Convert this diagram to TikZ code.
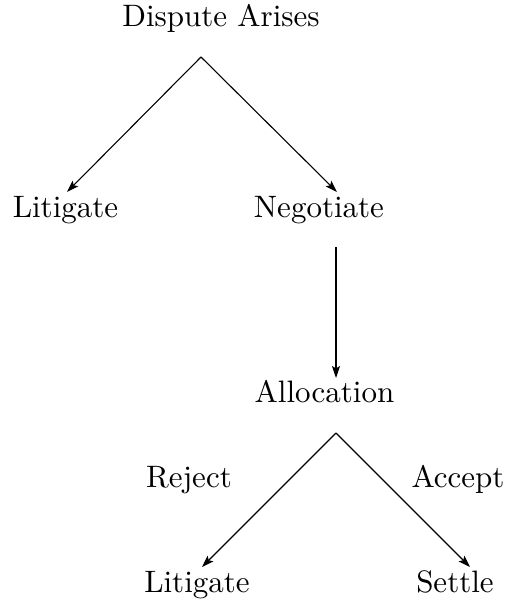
\documentclass[tikz,border=0pt]{standalone}
\usetikzlibrary{arrows.meta}
\begin{document}
\begin{tikzpicture}[x=1pt,y=-1pt,
  lbl/.style={anchor=base,inner sep=0pt,scale=3.1},
  conn/.style={line width=1.1pt,-{Stealth[length=12pt,width=8pt,inset=2.5pt]}}]
\useasboundingbox (0,0) rectangle (512,602);
\node[lbl] (dispute) at (221,27) {Dispute Arises};
\node[lbl] (lit1) at (65.5,217) {Litigate};
\node[lbl] (neg) at (319,217) {Negotiate};
\node[lbl] (alloc) at (324.5,402) {Allocation};
\node[lbl] (reject) at (189,487) {Reject};
\node[lbl] (accept) at (458,487) {Accept};
\node[lbl] (lit2) at (197,592) {Litigate};
\node[lbl] (settle) at (455,592) {Settle};
\coordinate (apex1) at (201,57);
\coordinate (t1) at (67,192);
\coordinate (t2) at (337,192);
\coordinate (vs) at (336,247);
\coordinate (t3) at (336,378);
\coordinate (apex2) at (336,433);
\coordinate (t4) at (202,567);
\coordinate (t5) at (470,567);
\draw[conn] (apex1) -- (t1);
\draw[conn] (apex1) -- (t2);
\draw[conn] (vs) -- (t3);
\draw[conn] (apex2) -- (t4);
\draw[conn] (apex2) -- (t5);
\end{tikzpicture}
\end{document}
